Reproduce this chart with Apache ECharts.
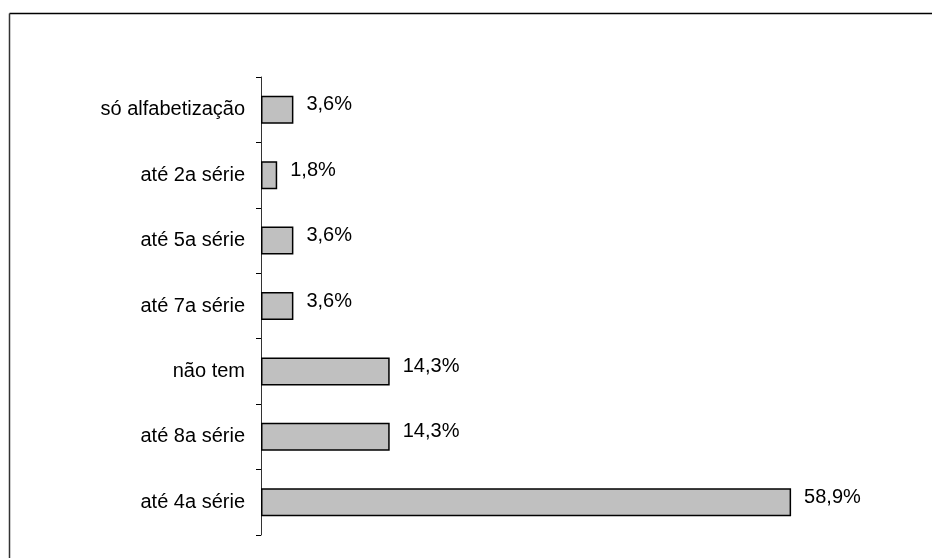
<!DOCTYPE html>
<html>
<head>
<meta charset="utf-8">
<script src="https://cdn.jsdelivr.net/npm/echarts@6/dist/echarts.min.js"></script>
<style>
	html, body { margin: 0; padding: 0; background: #fff; }
	#chart { width: 932px; height: 558px; }
</style>
</head>
<body>
<div id="chart"></div>
<script>
	//   categories (top to bottom)
	var categories = ['só alfabetização', 'até 2a série', 'até 5a série', 'até 7a série', 'não tem', 'até 8a série', 'até 4a série'];
	//   percent values
	var values = [3.6, 1.8, 3.6, 3.6, 14.3, 14.3, 58.9];
	//   label text
	var valueLabels = ['3,6%', '1,8%', '3,6%', '3,6%', '14,3%', '14,3%', '58,9%'];

	var chart = echarts.init(document.getElementById('chart'));

	var option = {
		animation: false,
		backgroundColor: '#fff',
		textStyle: { fontFamily: 'Liberation Sans, Arial, sans-serif' },
		grid: { left: 261, right: 41, top: 77, bottom: 23 },
		xAxis: {
			type: 'value',
			min: 0,
			max: 70,
			show: false
		},
		yAxis: {
			type: 'category',
			inverse: true,
			data: categories,
			axisLine: { show: true, lineStyle: { color: '#333', width: 1 } },
			axisTick: { show: true, length: 5, lineStyle: { color: '#000' } },
			axisLabel: {
				margin: 16,
				color: '#000',
				fontSize: 20,
				fontFamily: 'Liberation Sans, Arial, sans-serif'
			},
			splitLine: { show: false }
		},
		series: [{
			type: 'bar',
			data: values,
			barWidth: 28,
			itemStyle: { color: '#c0c0c0', borderColor: '#000', borderWidth: 1.5 },
			label: {
				show: true,
				position: 'right',
				distance: 13,
				offset: [0, -5],
				color: '#000',
				fontSize: 20,
				fontFamily: 'Liberation Sans, Arial, sans-serif',
				formatter: function (p) {
					return valueLabels[p.dataIndex];
				}
			}
		}],
		//   frame of the original picture
		graphic: [
			{ type: 'line', shape: { x1: 9.5, y1: 13.5, x2: 932, y2: 13.5 }, style: { stroke: '#000', lineWidth: 1.5 } },
			{ type: 'line', shape: { x1: 9.5, y1: 13.5, x2: 9.5, y2: 558 }, style: { stroke: '#333', lineWidth: 1.5 } }
		]
	};

	chart.setOption(option);
</script>
</body>
</html>
